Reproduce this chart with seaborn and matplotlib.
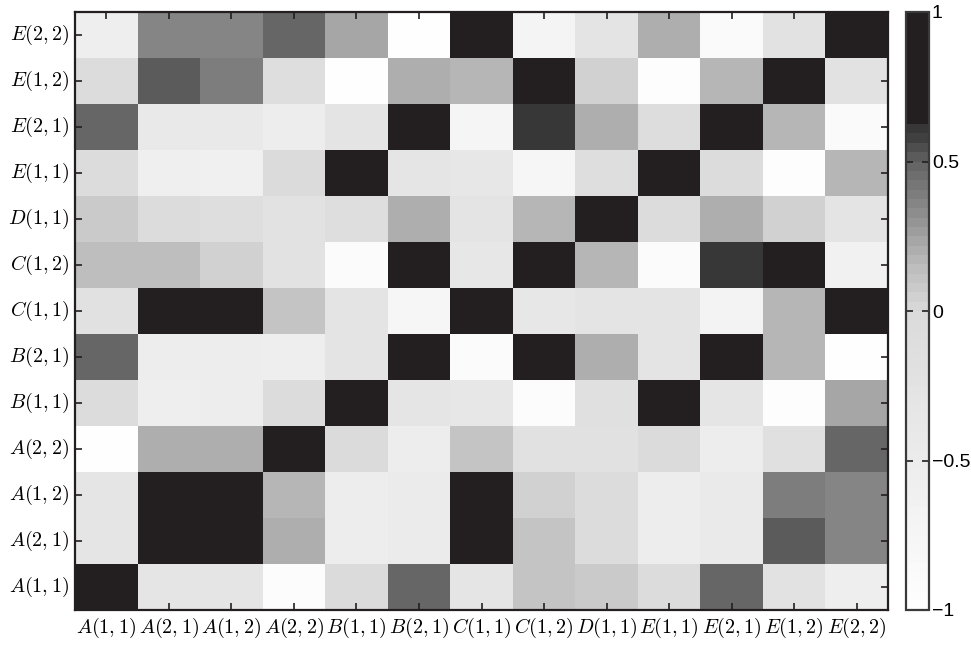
import numpy as np
import pandas as pd
import matplotlib
matplotlib.use("Agg")
import matplotlib.pyplot as plt
from matplotlib.colors import ListedColormap
import seaborn as sns

# variable names, in column order
labels = ["A(1,1)", "A(2,1)", "A(1,2)", "A(2,2)", "B(1,1)", "B(2,1)",
          "C(1,1)", "C(1,2)", "D(1,1)", "E(1,1)", "E(2,1)", "E(1,2)", "E(2,2)"]

# correlation of each variable with every variable in `labels`
row_A11 = [1.0, -0.3, -0.3, -0.92, -0.02, 0.47, -0.3, 0.12, 0.09, -0.05, 0.47, -0.25, -0.55]
row_A21 = [-0.3, 1.0, 0.9, 0.19, -0.52, -0.5, 0.9, 0.12, -0.05, -0.52, -0.45, 0.51, 0.35]
row_A12 = [-0.3, 0.9, 1.0, 0.17, -0.52, -0.5, 0.9, 0.05, -0.05, -0.52, -0.45, 0.4, 0.35]
row_A22 = [-1.0, 0.21, 0.19, 1.0, -0.03, -0.52, 0.12, -0.2, -0.2, -0.03, -0.52, -0.17, 0.47]
row_B11 = [-0.05, -0.55, -0.52, -0.05, 1.0, -0.3, -0.35, -0.92, -0.17, 0.9, -0.3, -0.95, 0.22]
row_B21 = [0.47, -0.52, -0.52, -0.55, -0.28, 1.0, -0.9, 0.9, 0.21, -0.28, 0.9, 0.18, -1.0]
row_C11 = [-0.2, 0.9, 0.9, 0.12, -0.28, -0.78, 1.0, -0.35, -0.28, -0.28, -0.68, 0.17, 0.9]
row_C12 = [0.13, 0.13, 0.05, -0.25, -0.9, 0.9, -0.35, 1.0, 0.17, -0.88, 0.61, 0.9, -0.65]
row_D11 = [0.09, -0.05, -0.1, -0.22, -0.1, 0.2, -0.28, 0.16, 1.0, -0.05, 0.19, 0.05, -0.28]
row_E11 = [-0.05, -0.58, -0.6, -0.03, 0.9, -0.3, -0.35, -0.78, -0.1, 1.0, -0.05, -0.95, 0.17]
row_E21 = [0.47, -0.43, -0.43, -0.52, -0.28, 0.9, -0.75, 0.61, 0.19, -0.08, 1.0, 0.17, -0.85]
row_E12 = [-0.05, 0.51, 0.4, -0.1, -1.0, 0.19, 0.17, 0.9, 0.04, -0.95, 0.17, 1.0, -0.25]
row_E22 = [-0.55, 0.35, 0.35, 0.47, 0.22, -1.0, 0.9, -0.7, -0.28, 0.19, -0.85, -0.25, 1.0]

cbar_ticks = [-1, -0.5, 0, 0.5, 1]
cbar_ticklabels = ["\u22121", "\u22120.5", "0", "0.5", "1"]

rows = [row_A11, row_A21, row_A12, row_A22, row_B11, row_B21, row_C11,
        row_C12, row_D11, row_E11, row_E21, row_E12, row_E22]

# top row of the grid is the last variable
df = pd.DataFrame(rows[::-1], index=labels[::-1], columns=labels)

# stepped grey scale: 64 levels, white at -1, saturating to near-black
n_levels = 64
centers = -1 + (np.arange(n_levels) + 0.5) * 2 / n_levels
g = np.interp(centers, [-1.0, -0.5, 0.0, 0.15, 0.3, 0.5, 0.6],
              [255, 236, 218, 188, 148, 98, 55]) / 255.0
colors = np.stack([g, g, g], axis=1)
dark = np.array([35, 31, 32]) / 255.0
colors[centers > 0.625] = dark
cmap = ListedColormap(colors)

plt.rcParams["mathtext.fontset"] = "cm"
plt.rcParams["font.family"] = ["Liberation Sans", "DejaVu Sans"]

fig = plt.figure(figsize=(9.71, 6.48), dpi=100)
ax = fig.add_axes([75 / 971, 1 - 610 / 648, 813 / 971, 598 / 648])
cax = fig.add_axes([906 / 971, 1 - 610 / 648, 23 / 971, 598 / 648])

sns.heatmap(df, ax=ax, cbar_ax=cax, cmap=cmap, vmin=-1, vmax=1,
            xticklabels=True, yticklabels=True)

ax.set_xticklabels([f"${l}$" for l in labels], rotation=0, fontsize=14.5)
ax.set_yticklabels([f"${l}$" for l in labels[::-1]], rotation=0, fontsize=14.5,
                   va="center")
ax.set_xlabel("")
ax.set_ylabel("")
for s in ax.spines.values():
    s.set_visible(True)
    s.set_linewidth(1.6)
    s.set_color("#231f20")
ax.tick_params(axis="both", direction="in", length=5, width=1.2,
               color="#231f20", top=True, right=True, bottom=True, left=True,
               labeltop=False, labelright=False, pad=4)

cb = ax.collections[0].colorbar
cb.outline.set_visible(True)
cb.outline.set_linewidth(1.6)
cb.outline.set_edgecolor("#3a3a3a")
cb.set_ticks(cbar_ticks)
cb.set_ticklabels(cbar_ticklabels)
cax.tick_params(direction="in", length=5, width=1.2, color="#231f20",
                left=True, right=True, labelsize=14, pad=2)

fig.savefig("out.png", dpi=100)
